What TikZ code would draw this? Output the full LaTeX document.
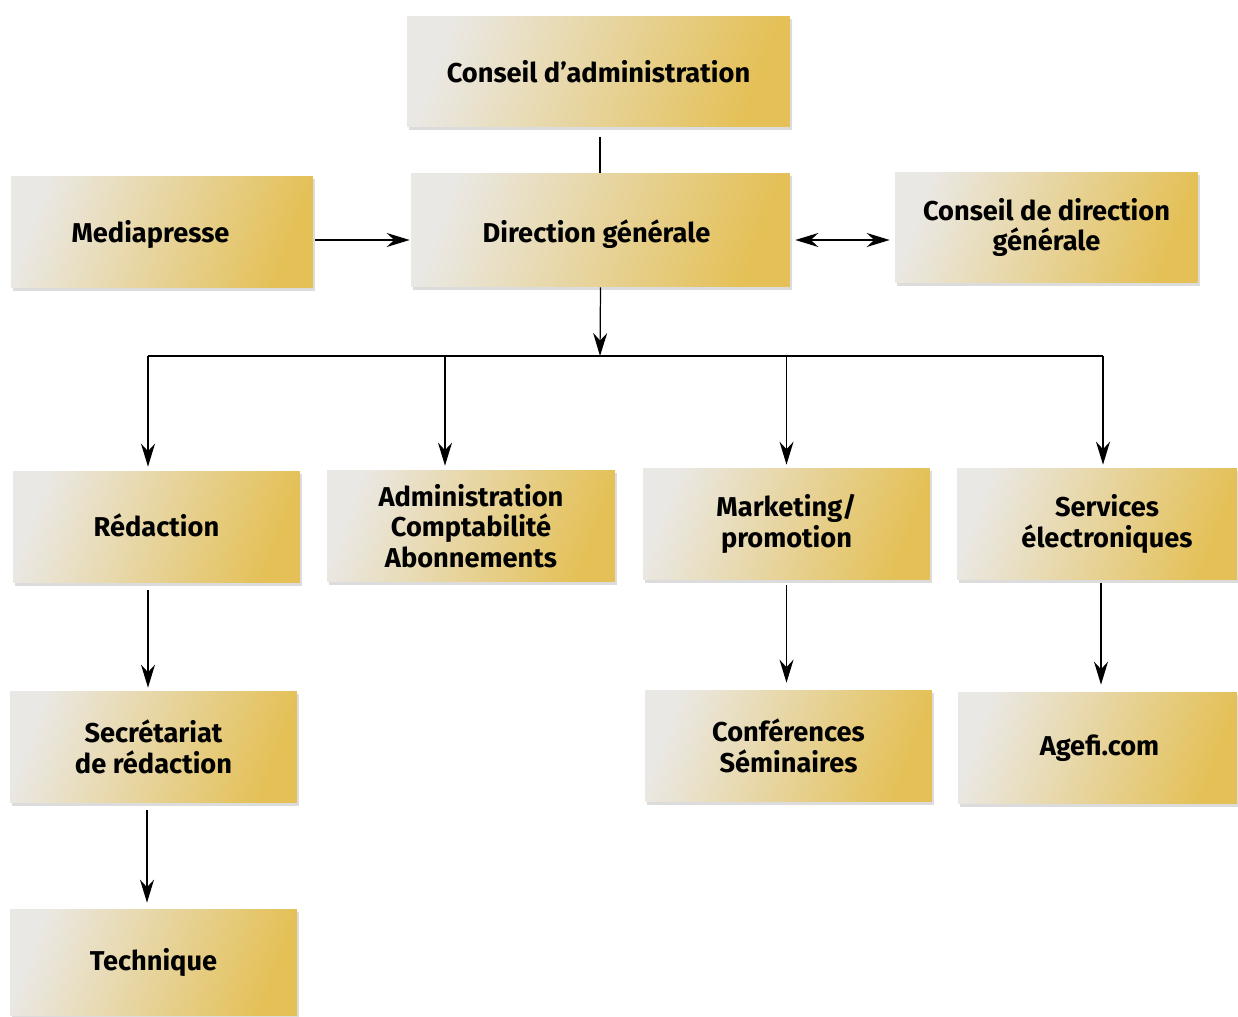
\documentclass[tikz,border=0pt]{standalone}
\usepackage{fontspec}
\setsansfont{Fira Sans}
\usetikzlibrary{arrows.meta,shadows}
\definecolor{boxlight}{RGB}{234,232,228}
\definecolor{boxmid}{RGB}{236,222,168}
\definecolor{boxgold}{RGB}{228,192,86}
\tikzset{
  box/.style={rectangle, inner sep=0pt, align=center,
    left color=boxlight, middle color=boxmid, right color=boxgold, shading angle=70,
    minimum height=2.24cm,
    font=\sffamily\bfseries\fontsize{15.5}{17.5}\selectfont,
    drop shadow={opacity=0.28, shadow xshift=0.04cm, shadow yshift=-0.06cm}},
  conn/.style={draw=black, line width=0.7pt},
  tip/.tip={Stealth[length=0.46cm, width=0.28cm, inset=0.15cm]},
  arr/.style={conn, -tip},
  darr/.style={conn, tip-tip}
}
\begin{document}
\begin{tikzpicture}[x=0.02cm, y=-0.02cm]
\useasboundingbox (0,0) rectangle (1238,1017);
\node[box, minimum width=7.66cm, minimum height=2.22cm] (ca) at (598.5,71.5) {Conseil d’administration};
\node[box, minimum width=6.04cm] (mp) at (162,232) {\raisebox{-0.04cm}[\height][\depth]{Mediapresse}\hspace*{0.46cm}};
\node[box, minimum width=7.58cm, minimum height=2.28cm] (dg) at (600.5,230) {\raisebox{-0.08cm}[\height][\depth]{Direction générale}\hspace*{0.16cm}};
\node[box, minimum width=6.06cm, minimum height=2.22cm] (cdg) at (1046.5,227.5) {Conseil de direction\\générale};
\node[box, minimum width=5.74cm] (red) at (156.5,527) {\raisebox{0.04cm}[\height][\depth]{Rédaction}};
\node[box, minimum width=5.76cm] (adm) at (471,526) {Administration\\Comptabilité\\Abonnements};
\node[box, minimum width=5.74cm] (mkt) at (786.5,524) {Marketing/\\promotion};
\node[box, minimum width=5.6cm] (svc) at (1097,524) {\hspace*{0.4cm}Services\\\hspace*{0.4cm}électroniques};
\node[box, minimum width=5.74cm] (sec) at (153.5,747) {Secrétariat\\de rédaction};
\node[box, minimum width=5.74cm] (conf) at (788.5,746) {Conférences\\Séminaires};
\node[box, minimum width=5.58cm] (age) at (1097.5,748) {\hspace*{0.08cm}Agefi.com};
\node[box, minimum width=5.74cm, minimum height=2.14cm] (tech) at (153.5,962.5) {Technique};

\coordinate (bus) at (600,356);
\coordinate (busL) at (148,356);
\coordinate (busR) at (1103,356);

\draw[conn] ([xshift=0.03cm, yshift=-0.2cm]ca.south) -- ([xshift=0.03cm]ca.south |- dg.north);
\draw[arr] ([xshift=0.04cm, yshift=-0.16cm]mp.east) -- ([xshift=-0.02cm, yshift=-0.16cm]mp.east -| dg.west);
\draw[darr] ([xshift=0.1cm, yshift=-0.2cm]dg.east) -- ([xshift=-0.1cm, yshift=-0.2cm]dg.east -| cdg.west);
\draw[arr] (dg.south) -- (bus);
\draw[conn] (busL) -- (busR);
\draw[arr] (busL) -- ([yshift=0.08cm]busL |- red.north);
\draw[arr] (busL -| adm.north) ++(-26,0) coordinate (b2) -- ([yshift=0.08cm]b2 |- adm.north);
\draw[arr] (busL -| mkt.north) -- ([yshift=0.06cm]mkt.north);
\draw[arr] (busR) -- ([yshift=0.06cm]busR |- svc.north);
\draw[arr] ([xshift=-0.17cm, yshift=-0.14cm]red.south) -- ([xshift=-0.17cm, yshift=0.06cm]red.south |- sec.north);
\draw[arr] ([yshift=-0.1cm]mkt.south) -- ([yshift=0.14cm]mkt.south |- conf.north);
\draw[arr] ([xshift=0.08cm, yshift=-0.06cm]svc.south) -- ([xshift=0.08cm, yshift=0.14cm]svc.south |- age.north);
\draw[arr] ([xshift=-0.13cm, yshift=-0.14cm]sec.south) -- ([xshift=-0.13cm, yshift=0.12cm]sec.south |- tech.north);
\end{tikzpicture}
\end{document}
